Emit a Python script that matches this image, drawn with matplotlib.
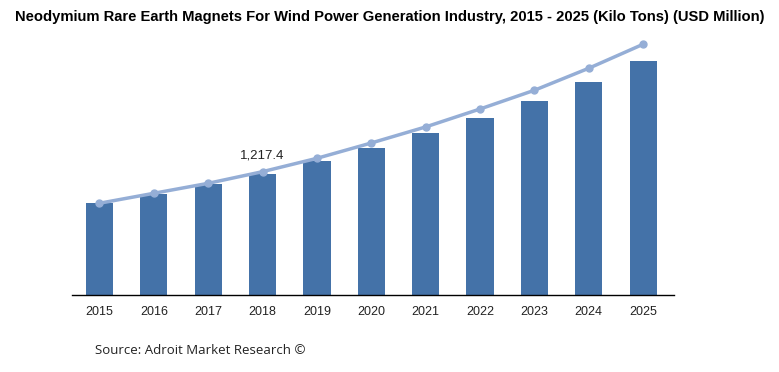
import matplotlib
matplotlib.use("Agg")
import matplotlib.pyplot as plt

years = ["2015", "2016", "2017", "2018", "2019", "2020",
         "2021", "2022", "2023", "2024", "2025"]
# USD Million (bars)
revenue = [919, 1009, 1114, 1217.4, 1345, 1476, 1626, 1777, 1948, 2138, 2349]
volume = [921, 1021, 1121, 1238, 1372, 1526, 1687, 1867, 2055, 2276, 2517]

bar_color = "#4472a8"
line_color = "#95aed6"

fig = plt.figure(figsize=(7.79, 3.72), dpi=100)
ax = fig.add_axes([0.0924, 0.207, 0.773, 0.699])

x = list(range(len(years)))
ax.bar(x, revenue, width=0.5, color=bar_color, zorder=2)
ax.plot(x, volume, color=line_color, lw=2.5, marker="o", ms=5,
        solid_capstyle="round", zorder=3)

ax.annotate("1,217.4", (3, volume[3]), xytext=(0, 7), textcoords="offset points",
            ha="center", va="bottom", fontsize=9.5, color="#222222",
            family=["Liberation Sans", "DejaVu Sans"])

ax.set_xlim(-0.506, 10.57)
ax.set_ylim(0, 2610)
ax.set_xticks(x)
ax.set_xticklabels(years, family=["Liberation Sans", "DejaVu Sans"],
                   fontsize=9, color="#222222")
ax.tick_params(axis="x", length=0, pad=8)
ax.set_yticks([])
for s in ["top", "right", "left"]:
    ax.spines[s].set_visible(False)
ax.spines["bottom"].set_color("#000000")
ax.spines["bottom"].set_linewidth(1)

fig.text(0.5, 0.955,
         "Neodymium Rare Earth Magnets For Wind Power Generation Industry, 2015 - 2025 (Kilo Tons) (USD Million)",
         ha="center", va="center", fontsize=10.6, fontweight="bold",
         family=["Liberation Sans Narrow", "Liberation Sans", "DejaVu Sans"])

fig.text(95 / 779, 1 - 350 / 372, "Source: Adroit Market Research \u00a9",
         ha="left", va="center", fontsize=9.5, color="#222222",
         family=["Open Sans", "DejaVu Sans"])

fig.savefig("out.png", dpi=100)
